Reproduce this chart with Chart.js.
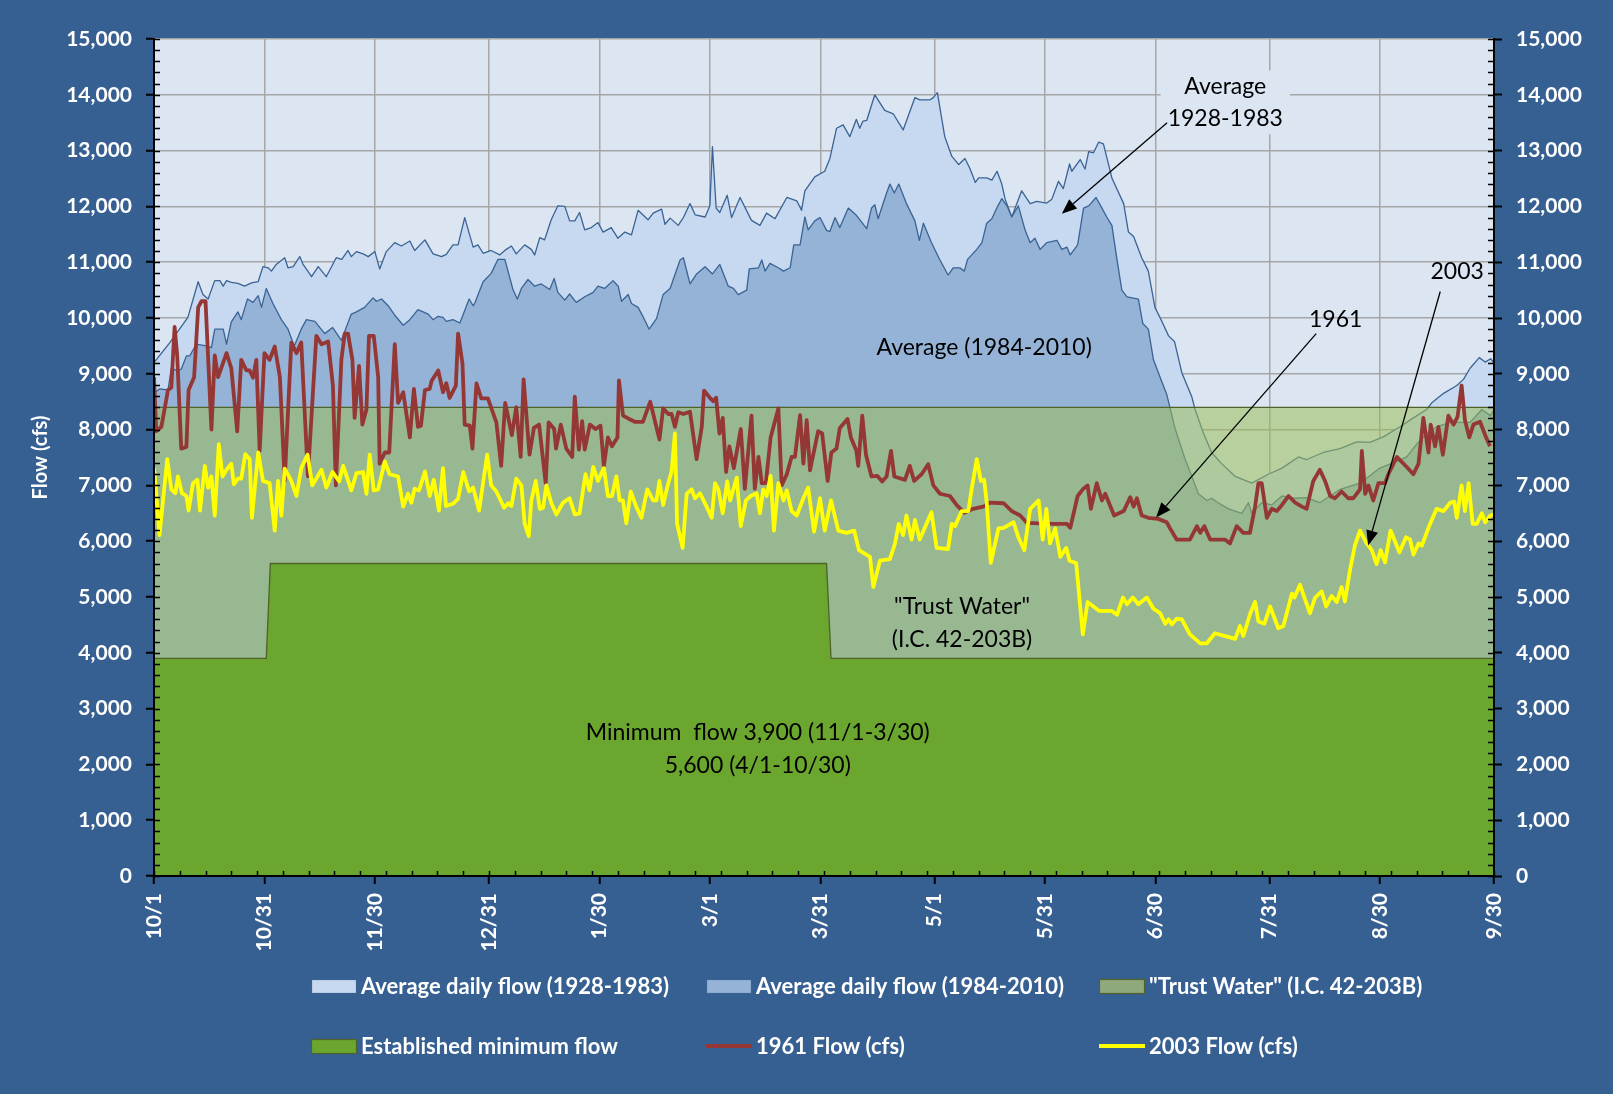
<!DOCTYPE html>
<html>
<head>
<meta charset="utf-8">
<title>Daily flow</title>
<script src="https://cdn.jsdelivr.net/npm/chart.js@4.4.1/dist/chart.umd.min.js"></script>
<style>
  html, body { margin: 0; padding: 0; background: #376092; }
  #chart { display: block; }
</style>
</head>
<body>
<canvas id="chart" width="1613" height="1094"></canvas>
<script>
// ===== データ（[日数(10/1から), 流量cfs]） =====
var tickDays   = [0, 30, 60, 91, 121, 151, 181, 212, 242, 272, 303, 333, 364];
var tickLabels = ["10/1", "10/31", "11/30", "12/31", "1/30", "3/1", "3/31", "5/1", "5/31", "6/30", "7/31", "8/30", "9/30"];

var avg1928 = [[0,9200],[4.3,9560],[9.2,10010],[12,10650],[13.3,10420],[14.7,10340],[16.5,10670],[17.9,10670],[18.8,10570],[19.7,10670],[21,10640],[22.8,10620],[24.6,10570],[26.5,10630],[28.3,10650],[29.6,10920],[31,10900],[31.9,10840],[33.2,10960],[35.5,11080],[36.4,10900],[37.8,10920],[39.6,11100],[40.5,10960],[42.8,10740],[44.6,10920],[46.8,10740],[49.5,11080],[51,11050],[52.7,11210],[53.6,11100],[55,11190],[56.8,11150],[58.2,11100],[60,11190],[61.3,10880],[63.1,11190],[65.4,11350],[67.2,11290],[69.5,11380],[70.8,11210],[73.6,11400],[75.8,11150],[78.1,11100],[79.4,11140],[81.2,11310],[82.6,11310],[84.4,11800],[86.7,11270],[88,11310],[89.4,11160],[91.6,11210],[93.9,11130],[95.7,11230],[97.1,11290],[98.4,11150],[100.7,11310],[102.5,11230],[103.4,11130],[104.8,11440],[106.1,11400],[107.9,11760],[109.7,12010],[111.6,12000],[112.9,11740],[114.3,11740],[115.6,11890],[117,11580],[118.8,11620],[120.6,11710],[122,11540],[124.2,11620],[126,11430],[127.9,11540],[129.7,11490],[131.5,11930],[134.2,11760],[135.6,11880],[137.9,11950],[138.8,11680],[140.2,11790],[142.4,11660],[143.8,11800],[145.6,12050],[147,11850],[149.7,11810],[151,12010],[151.7,13070],[152.7,11970],[153.7,11890],[155.7,12200],[156.9,11800],[159.2,12160],[162.3,11750],[164.6,11660],[166.4,11880],[168.7,11780],[171.9,12160],[174.6,12100],[175.9,11930],[176.8,12280],[179.5,12530],[182.2,12630],[183.6,12860],[185.4,13400],[187.2,13460],[189,13250],[190.8,13560],[191.7,13400],[192.6,13530],[193.6,13540],[195.8,14000],[198.5,13720],[200.8,13660],[203.5,13370],[206.7,13950],[208,13910],[210.8,13910],[211.7,13950],[212.8,14040],[214.8,13250],[216.7,12900],[218.6,12750],[220.3,12860],[221.7,12670],[223.1,12430],[224,12510],[226.2,12510],[227.6,12470],[229,12630],[230.3,12400],[231.2,12130],[233,11810],[235.7,12280],[238,12050],[239.8,12090],[242.5,12060],[243.9,12130],[245.7,12450],[247,12320],[248.7,12760],[249.3,12630],[251.6,12840],[252.9,12670],[253.9,12980],[255.2,12960],[256.6,13150],[257.9,13120],[260.2,12510],[263.4,12050],[264.7,11540],[266.1,11460],[268.3,11080],[270.1,10840],[271.9,10190],[273.7,9950],[275.6,9680],[277.2,9580],[279.2,9020],[281.9,8590],[282.8,8360],[285.1,7930],[287.3,7590],[290,7390],[293.7,7160],[298.2,7040],[302.7,7200],[306.4,7310],[310.9,7510],[313,7460],[317.6,7590],[322.2,7660],[326.7,7780],[330.3,7770],[333.9,7870],[338.5,8050],[342.1,8210],[345.7,8360],[347.1,8480],[350.3,8650],[353.9,8790],[355.7,8900],[357.5,9100],[360,9290],[361.6,9210],[363.1,9270],[364,9190]];

var avg1984 = [[0,8650],[1.5,8730],[3.8,8710],[4.7,9100],[6.1,9060],[7.4,9080],[8.8,9320],[9.7,9320],[11.5,9530],[14.2,9500],[15.6,9470],[16.5,9800],[18.8,9800],[19.7,9530],[21,9930],[22.8,10110],[23.7,9970],[25.4,10340],[26.9,10280],[28.3,10400],[29.2,10190],[30.5,10530],[32.3,10260],[34.6,9970],[36.4,9800],[38.1,9500],[40,9800],[41.4,9970],[43.7,9940],[46.4,9720],[48.5,9830],[50.9,9600],[53.6,10070],[55,10110],[57.2,10190],[59.5,10360],[60.4,10300],[61.8,10340],[63.6,10220],[65.4,10050],[67.7,9870],[69.5,9970],[71.7,10150],[74.5,10070],[75.8,9970],[77.2,10030],[78.5,10010],[79.4,9940],[81.2,9970],[83.1,9910],[85.6,10340],[86.7,10220],[87.1,10260],[89.4,10650],[91.6,10800],[93.4,11050],[95.3,11050],[97.5,10510],[98.7,10340],[99.8,10530],[101.6,10690],[103.4,10570],[105.2,10610],[107.5,10510],[108.7,10710],[109.7,10460],[111.6,10320],[112.9,10430],[114.7,10280],[117,10380],[119.3,10460],[120.6,10570],[122.4,10530],[124.7,10670],[126.1,10570],[127,10300],[128.8,10420],[129.7,10260],[131.5,10190],[132.8,10030],[134.5,9800],[136.5,9990],[138.3,10420],[140.2,10530],[142.9,11040],[143.8,11080],[145.6,10610],[147.4,10790],[149.7,10920],[151.7,10790],[153.7,10960],[156,10570],[157.4,10530],[158.7,10420],[161,10500],[161.7,10880],[164.2,10900],[165.1,11040],[166,10840],[167.3,10980],[169.6,10900],[171,10840],[172.8,10900],[173.8,11310],[175.5,11310],[176.8,11810],[177.7,11580],[179.5,11740],[180.9,11800],[182.7,11570],[183.6,11550],[185,11800],[186.3,11620],[188.6,11970],[190.8,11840],[193.6,11600],[194.9,11970],[195.8,12030],[196.7,11780],[199,12240],[199.9,12400],[201.1,12240],[202.3,12400],[204.4,12050],[206.7,11740],[207.9,11390],[209,11700],[211.2,11350],[213.5,11040],[215.7,10770],[217.1,10900],[218.9,10900],[220.1,10840],[221,11050],[223.5,11230],[224.9,11350],[226.2,11700],[227.6,11780],[229,11980],[230.3,12140],[231.7,12010],[233,11810],[234.8,12010],[236.6,11580],[238,11350],[239.3,11430],[240.7,11230],[242.5,11350],[245.3,11390],[246.6,11230],[248,11270],[248.9,11130],[250.9,11310],[252.5,11970],[253.9,12010],[255.9,12160],[257.5,11970],[258.8,11810],[260.2,11660],[261.6,11040],[262.9,10500],[264.3,10380],[267.4,10340],[268.6,9900],[270.1,9800],[271.5,9250],[273.3,8940],[275.1,8630],[277.4,8010],[280.1,7470],[282.4,7080],[283.7,6850],[286,6730],[287.3,6770],[289.1,6690],[291.9,6580],[295.5,6500],[297.3,6690],[298.2,6500],[300.9,6690],[303.6,6650],[306.4,6810],[310,6770],[313,6780],[316.7,6690],[318.5,6770],[322.2,6930],[327.6,7040],[333,7310],[337.6,7430],[340.3,7510],[343,7740],[345.7,7930],[348.4,8050],[352.1,8130],[357.5,8130],[360.7,8360],[363,8250],[364,8360]];

var flow1961 = [[0,8940],[0.6,7970],[2,8050],[3.8,8710],[4.7,8750],[5.6,9840],[6.3,9330],[7.4,7660],[8.8,7690],[9.4,8710],[10.9,8940],[12,10190],[12.9,10300],[14,10300],[15.6,8000],[16.5,9330],[17.4,8940],[19.7,9370],[21,9100],[22.6,7970],[23.7,9250],[25.1,9060],[26,9060],[26.9,8930],[27.8,9250],[28.7,7620],[30,9370],[31.4,9250],[32.8,9490],[34.2,8940],[35.5,7080],[37.3,9560],[38.7,9370],[40,9560],[41.8,7160],[44.1,9680],[45.5,9530],[47.3,9580],[48.6,8790],[49.4,7000],[50.9,9250],[51.8,9720],[52.7,9720],[53.9,9250],[54.5,8210],[55.7,9140],[56.6,8090],[57.7,8360],[58.4,9680],[59.7,9680],[60.9,8940],[61.3,7390],[62.7,7590],[63.9,7590],[65.4,9530],[66.3,8480],[67.7,8670],[69.5,7860],[70.6,8730],[71.7,8050],[72.5,8070],[73.6,8710],[74.9,8730],[75.4,8870],[77.2,9060],[78.5,8670],[79.4,8830],[80.3,8570],[82,8790],[82.6,9720],[83.8,9180],[84.4,8090],[85.8,8070],[86.5,7660],[87.6,8830],[88.9,8560],[90.7,8560],[93,8130],[94.3,7350],[95.4,8480],[97.2,7900],[98.4,8400],[99.6,7510],[100.4,8900],[102,7550],[103.2,8030],[104.6,8090],[106.4,7040],[107.2,8130],[108.7,8010],[109.2,7660],[110.5,8090],[112,7660],[113.6,7510],[114.3,8590],[115.4,7640],[116.3,8150],[117,7640],[118.4,8090],[119.9,8010],[121.3,8070],[122.2,7350],[123.3,7860],[124.4,7700],[125.9,7860],[126.3,8880],[127.4,8250],[128.8,8200],[130.6,8140],[132.8,8140],[134.8,8500],[137.3,7820],[138.3,8380],[139.7,8280],[140.6,8280],[141.5,8050],[142.4,8310],[143.8,8280],[145.6,8320],[147.4,7470],[148.8,8050],[149.4,8700],[151,8570],[151.9,8510],[152.7,8570],[153.6,7930],[154.5,8210],[155.4,7240],[156.3,7700],[157.5,7310],[159.4,8010],[160.5,6940],[162.3,8250],[163.2,6940],[164.2,7510],[165.1,7040],[166.2,7040],[167.5,7860],[169.6,8380],[170.5,7000],[171.9,7200],[173.2,7510],[174.1,7510],[175.5,8260],[176.4,7390],[177.3,8170],[178.2,7270],[180.4,7970],[181.5,7930],[183,7080],[184,7590],[185.4,7660],[186.3,8030],[188.4,8190],[189.3,7860],[190.8,7620],[191.3,7350],[192.4,8250],[193.4,7550],[194.9,7160],[196.5,7170],[197.8,7070],[199,7160],[200.2,7620],[201.1,7160],[204,7100],[205.3,7350],[206.5,7080],[208.5,7200],[210.3,7380],[211.7,7000],[213.5,6850],[216.2,6810],[218,6650],[220.1,6510],[222.5,6580],[225.3,6620],[227.1,6690],[230.8,6680],[233,6540],[235.3,6460],[237.1,6330],[240.3,6320],[244.3,6310],[248,6310],[248.9,6240],[250.9,6810],[252.3,6930],[253.6,7000],[254.5,6580],[256.1,7040],[257.5,6730],[258.4,6850],[260.8,6460],[263.4,6540],[265.2,6790],[266.1,6620],[267,6770],[268.3,6460],[270.1,6420],[272.8,6400],[275.1,6340],[276,6230],[277.8,6030],[281.4,6030],[283.3,6270],[284.2,6150],[285.3,6270],[286.9,6030],[290.9,6030],[292.3,5960],[294.1,6270],[295.9,6150],[297.7,6150],[299.1,6620],[300,7040],[300.9,7040],[302.3,6420],[303.6,6580],[305,6540],[306.4,6650],[308.2,6810],[310,6690],[311.8,6620],[313.1,6580],[314.9,7080],[316.7,7280],[318.1,7080],[319.5,6810],[320.8,6770],[322.6,6890],[324.4,6770],[325.8,6770],[327.6,6930],[328.1,7620],[329,6850],[329.9,7000],[331.2,6730],[332.6,7040],[334.4,7040],[335.3,7200],[337.6,7510],[340.3,7330],[342.1,7200],[343.5,7390],[344.8,8210],[346.2,7590],[346.8,8090],[348,7700],[348.9,8050],[350.1,7550],[351.6,8250],[353,8090],[354.1,8230],[355.2,8790],[356.1,8170],[357.3,7860],[358.4,8090],[360.2,8140],[361.6,7900],[362.9,7700]];

var flow2003 = [[0,7310],[0.6,6850],[1.5,6110],[3.6,7470],[4.7,6930],[5.8,6860],[6.5,7160],[7.6,6860],[8.8,6810],[9.4,6550],[10.6,7040],[11.8,7100],[12.5,6550],[13.8,7350],[14.7,6960],[15.6,7160],[16.5,6460],[17.6,7740],[18.6,7160],[19.7,7280],[21,7390],[21.7,7020],[22.8,7120],[23.7,7120],[24.8,7560],[26,7470],[26.6,6420],[28.3,7590],[29.6,7080],[31.4,7040],[32.8,6190],[33.7,7080],[34.6,6460],[35.5,7300],[37.3,7080],[38.7,6810],[40,7310],[41.7,7550],[43,7000],[45.5,7280],[46.8,6960],[48.5,7240],[50.3,7070],[51.4,7350],[53.6,6910],[55,7220],[56.8,7240],[57.7,6850],[58.6,7550],[59.7,6910],[60.9,6930],[62.7,7430],[64,7200],[66.3,7160],[67.7,6620],[69,6850],[69.9,6690],[70.8,6940],[72,6910],[73.6,7250],[74.9,6810],[76,7100],[77.4,6550],[78.5,7310],[79.3,6630],[81.2,6670],[82.6,6760],[84,7240],[85.6,6890],[86.7,6960],[88.3,6550],[90.5,7550],[91.6,7000],[93,6890],[95.1,6600],[96.2,6680],[97.1,6630],[98.4,7120],[99.8,7000],[100.7,6310],[101.8,6090],[102.5,6730],[103.7,7080],[104.8,6580],[105.7,6600],[106.6,7000],[107.9,6690],[109.3,6480],[111.1,6690],[112.9,6770],[114.3,6480],[115.6,6500],[117.2,7200],[118.3,6910],[119.3,7330],[120.6,7080],[122.2,7310],[123.3,6810],[124.4,6810],[125.6,7160],[126.5,6730],[127.4,6730],[128.3,6320],[129.5,6890],[131,6620],[132.4,6420],[134,6930],[135.6,6730],[136.5,6730],[137.3,7080],[138.3,6650],[139.7,7040],[140.6,7250],[141.5,7930],[142.1,6310],[143.6,5880],[144.7,6850],[146,6930],[147,6770],[148.3,6860],[150.1,6620],[151.5,6420],[152.4,7040],[153.3,6930],[154.5,6500],[155.7,7070],[156.5,6730],[158.3,7140],[159.4,6270],[160.8,6730],[162.1,6810],[163.7,6860],[164.6,6500],[165.5,6930],[166.4,6810],[167.5,7170],[168.4,6190],[169.6,7040],[171,6730],[171.9,6910],[173.2,6540],[174.6,6460],[176.4,6770],[177.7,6960],[179.3,6170],[180.9,6770],[182.2,6190],[183.9,6730],[185.9,6190],[188.1,6150],[190.2,6190],[191.5,5840],[194.5,5720],[195.4,5180],[197.2,5650],[199.9,5680],[201.3,5960],[202.3,6310],[203.5,6110],[204.4,6460],[205.8,6030],[206.7,6380],[208,6030],[211.2,6520],[212.6,5880],[215.7,5860],[216.7,6310],[217.6,6270],[219.4,6540],[221.2,6540],[222.1,6930],[223.5,7470],[224.6,7080],[225.5,7100],[226.2,6690],[227.3,5610],[229.4,6230],[230.8,6240],[233.5,6340],[234.8,6070],[236.4,5840],[238,6580],[240.3,6730],[241.4,6030],[242.4,6580],[243.4,5960],[244.8,6230],[246.2,5720],[247.8,5880],[248.7,5650],[250.5,5610],[252.3,4330],[253.6,4910],[255.2,4830],[256.8,4750],[260.2,4750],[261.6,4680],[263.2,4990],[264.3,4870],[265.9,4990],[267.4,4870],[269.7,4990],[271.5,4790],[273.3,4710],[274.7,4520],[275.6,4600],[276.5,4510],[277.8,4610],[279.2,4600],[281.4,4330],[284.2,4170],[286,4170],[288.2,4350],[291,4300],[293.7,4250],[295,4480],[295.9,4300],[297.8,4710],[299.1,4910],[300,4560],[301.6,4520],[303.2,4830],[305.4,4440],[306.8,4480],[309.1,5060],[309.8,4990],[311.3,5220],[312.5,4990],[314,4710],[315.4,4990],[317.2,5100],[318.4,4830],[319.9,5020],[321.3,4910],[322.6,5180],[323.5,4920],[324.9,5490],[326.2,5920],[327.6,6190],[329.4,5960],[330.8,5840],[332.1,5590],[333.2,5840],[334.4,5620],[335.9,6190],[337.1,6000],[338.3,5800],[340.1,6070],[341.2,6030],[342.1,5760],[343.5,5960],[344.4,5920],[346.2,6240],[348.4,6580],[350.3,6540],[352.1,6690],[353.2,6710],[353.9,6420],[355.2,7000],[356.1,6540],[357.1,7040],[358.2,6310],[359.3,6310],[360.7,6500],[361.6,6340],[363,6460],[364,6480]];

var minFlow    = [[0,3900],[30.5,3900],[31.6,5600],[182.7,5600],[183.9,3900],[364,3900]];
var trustWater = [[0,8400],[30.5,8400],[31.6,8400],[182.7,8400],[183.9,8400],[364,8400]];

// 注記（日数, 流量）
var notes = [
  { lines: ["Average", "1928-1983"], day: 291, flow: [14150, 13580], box: true },
  { lines: ["Average (1984-2010)"], day: 225.5, flow: [9470] },
  { lines: ["1961"], day: 321, flow: [9970] },
  { lines: ["2003"], day: 354, flow: [10830] },
  { lines: ["\"Trust Water\"", "(I.C. 42-203B)"], day: 219.5, flow: [4830, 4240] },
  { lines: ["Minimum  flow 3,900 (11/1-3/30)", "5,600 (4/1-10/30)"], day: 164, flow: [2570, 1980] }
];
var arrows = [
  { from: [275.2, 13500], to: [246.6, 11870] },
  { from: [315.7, 9720], to: [272.2, 6425] },
  { from: [349.4, 10475], to: [329.8, 5923] }
];

function pts(arr) { return arr.map(function (p) { return { x: p[0], y: p[1] }; }); }

var FONT = "Lato, 'Open Sans', sans-serif";
var BG = "#376092";
var PLOT_BG = "#DCE6F2";
var GRID = "#A6A6A6";

// ===== 背景 =====
var bgPlugin = {
  id: "bg",
  beforeDraw: function (chart) {
    var c = chart.ctx, a = chart.chartArea;
    c.save();
    c.fillStyle = BG;
    c.fillRect(0, 0, chart.width, chart.height);
    c.fillStyle = PLOT_BG;
    c.fillRect(a.left, a.top, a.right - a.left, a.bottom - a.top);
    c.restore();
  }
};

// ===== 補助目盛・軸線 =====
var minorPlugin = {
  id: "minor",
  afterDatasetsDraw: function (chart) {
    var c = chart.ctx, a = chart.chartArea;
    var y = chart.scales.y, x = chart.scales.x;
    c.save();
    c.strokeStyle = "#000";
    c.lineWidth = 1.5;
    c.beginPath();
    for (var v = 0; v <= 15000; v += 200) {
      var py = Math.round(y.getPixelForValue(v)) + 0.5;
      c.moveTo(a.left, py); c.lineTo(a.left + 6, py);
      c.moveTo(a.right - 6, py); c.lineTo(a.right, py);
    }
    for (var d = 0; d <= 364; d += 7) {
      var px = Math.round(x.getPixelForValue(d)) + 0.5;
      c.moveTo(px, a.bottom); c.lineTo(px, a.bottom - 5);
    }
    c.stroke();
    c.lineWidth = 2;
    c.beginPath();
    c.moveTo(a.left, a.top); c.lineTo(a.left, a.bottom); c.lineTo(a.right, a.bottom); c.lineTo(a.right, a.top);
    c.stroke();
    c.restore();
  }
};

// ===== 注記と矢印 =====
var notePlugin = {
  id: "notes",
  afterDatasetsDraw: function (chart) {
    var c = chart.ctx, x = chart.scales.x, y = chart.scales.y;
    c.save();
    c.font = "23px " + FONT;
    c.textAlign = "center";
    c.textBaseline = "middle";
    notes.forEach(function (n) {
      var px = x.getPixelForValue(n.day);
      if (n.box) {
        var w = 0;
        n.lines.forEach(function (t) { w = Math.max(w, c.measureText(t).width); });
        var top = y.getPixelForValue(n.flow[0]) - 16;
        var bot = y.getPixelForValue(n.flow[n.flow.length - 1]) + 16;
        c.fillStyle = PLOT_BG;
        c.fillRect(px - w / 2 - 7, top, w + 14, bot - top);
      }
      c.fillStyle = "#000";
      n.lines.forEach(function (t, i) {
        c.fillText(t, px, y.getPixelForValue(n.flow[i]));
      });
    });
    c.strokeStyle = "#000";
    c.fillStyle = "#000";
    c.lineWidth = 1.3;
    arrows.forEach(function (ar) {
      var x1 = x.getPixelForValue(ar.from[0]), y1 = y.getPixelForValue(ar.from[1]);
      var x2 = x.getPixelForValue(ar.to[0]), y2 = y.getPixelForValue(ar.to[1]);
      var ang = Math.atan2(y2 - y1, x2 - x1), L = 15, W = 6;
      var bx = x2 - L * Math.cos(ang), by = y2 - L * Math.sin(ang);
      c.beginPath(); c.moveTo(x1, y1); c.lineTo(bx, by); c.stroke();
      c.beginPath();
      c.moveTo(x2, y2);
      c.lineTo(bx + W * Math.sin(ang), by - W * Math.cos(ang));
      c.lineTo(bx - W * Math.sin(ang), by + W * Math.cos(ang));
      c.closePath(); c.fill();
    });
    c.restore();
  }
};

// ===== 凡例（3列） =====
var legendCols = [311, 706, 1099];
var legendRows = [986, 1046];
var legendPlugin = {
  id: "gridLegend",
  afterDraw: function (chart) {
    var c = chart.ctx;
    c.save();
    c.font = "bold 22px " + FONT;
    c.textBaseline = "middle";
    c.textAlign = "left";
    chart.data.datasets.forEach(function (ds, i) {
      var lx = legendCols[i % 3], ly = legendRows[Math.floor(i / 3)];
      if (ds.fill) {
        c.fillStyle = ds.legendColor || ds.backgroundColor;
        c.fillRect(lx, ly - 7, 46, 15);
        c.strokeStyle = ds.borderColor;
        c.lineWidth = 1.2;
        c.strokeRect(lx + 0.5, ly - 6.5, 45, 14);
      } else {
        c.strokeStyle = ds.borderColor;
        c.lineWidth = 4;
        c.beginPath(); c.moveTo(lx, ly); c.lineTo(lx + 46, ly); c.stroke();
      }
      c.fillStyle = "#fff";
      c.fillText(ds.label, lx + 50, ly + 1);
    });
    c.restore();
  }
};

var tickFont = { family: FONT, weight: "bold", size: 21 };

new Chart(document.getElementById("chart"), {
  type: "line",
  data: {
    datasets: [
      {
        label: "Average daily flow (1928-1983)",
        data: pts(avg1928),
        borderColor: "#3A6393", borderWidth: 1.3,
        backgroundColor: "#C6D9F1", fill: "origin", order: 6
      },
      {
        label: "Average daily flow (1984-2010)",
        data: pts(avg1984),
        borderColor: "#3A6393", borderWidth: 1.3,
        backgroundColor: "#95B3D7", fill: "origin", order: 5
      },
      {
        label: "\"Trust Water\" (I.C. 42-203B)",
        data: pts(trustWater),
        borderColor: "#4F6228", borderWidth: 1.3,
        backgroundColor: "rgba(155,187,89,0.55)", legendColor: "#8FA97D",
        fill: "+1", order: 4
      },
      {
        label: "Established minimum flow",
        data: pts(minFlow),
        borderColor: "#4F6228", borderWidth: 1.3,
        backgroundColor: "#6BA62E", fill: "origin", order: 3
      },
      {
        label: "1961 Flow (cfs)",
        data: pts(flow1961),
        borderColor: "#953735", borderWidth: 3.8,
        fill: false, order: 2
      },
      {
        label: "2003 Flow (cfs)",
        data: pts(flow2003),
        borderColor: "#FFFF00", borderWidth: 3.8,
        fill: false, order: 1
      }
    ]
  },
  options: {
    responsive: false,
    animation: false,
    events: [],
    layout: { padding: { top: 39, left: 0, right: 0, bottom: 0 } },
    elements: { point: { radius: 0 }, line: { tension: 0, borderJoinStyle: "round" } },
    plugins: { legend: { display: false }, tooltip: { enabled: false } },
    scales: {
      x: {
        type: "linear", min: 0, max: 364,
        afterBuildTicks: function (s) { s.ticks = tickDays.map(function (d) { return { value: d }; }); },
        afterFit: function (s) { s.height = 218; },
        ticks: {
          autoSkip: false, minRotation: 90, maxRotation: 90, padding: 9,
          color: "#fff", font: tickFont,
          callback: function (v) { return tickLabels[tickDays.indexOf(v)]; }
        },
        grid: { color: GRID, lineWidth: 1.5, tickLength: 8, tickColor: "#000", tickWidth: 2 },
        border: { color: "#000", width: 2 }
      },
      y: {
        position: "left", min: 0, max: 15000,
        afterFit: function (s) { s.width = 154; },
        ticks: {
          stepSize: 1000, padding: 14, color: "#fff", font: tickFont,
          callback: function (v) { return v.toLocaleString("en-US"); }
        },
        grid: { color: GRID, lineWidth: 1.5, tickLength: 8, tickColor: "#000", tickWidth: 2 },
        border: { color: "#000", width: 2 },
        title: {
          display: true, text: "Flow (cfs)", color: "#fff",
          font: { family: FONT, weight: "bold", size: 20 },
          padding: { top: 29, bottom: 0 }
        }
      },
      y2: {
        position: "right", min: 0, max: 15000,
        afterFit: function (s) { s.width = 119; },
        ticks: {
          stepSize: 1000, padding: 14, color: "#fff", font: tickFont,
          callback: function (v) { return v.toLocaleString("en-US"); }
        },
        grid: { drawOnChartArea: false, tickLength: 8, tickColor: "#000", tickWidth: 2 },
        border: { color: "#000", width: 2 }
      }
    }
  },
  plugins: [bgPlugin, minorPlugin, notePlugin, legendPlugin]
});
</script>
</body>
</html>
